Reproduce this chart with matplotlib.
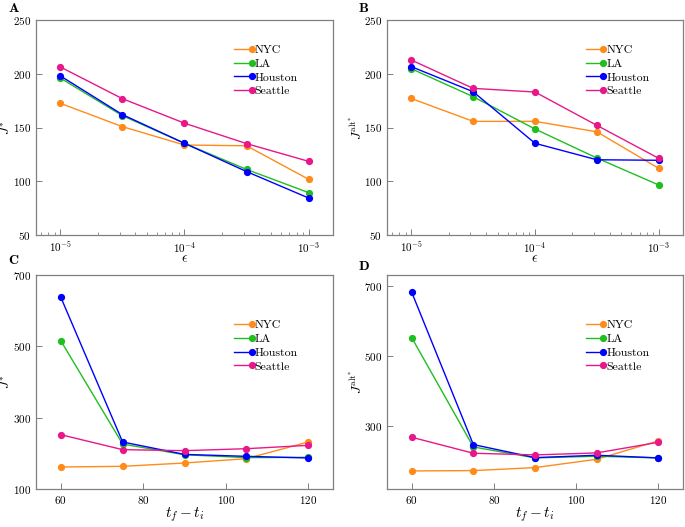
import numpy as np
import matplotlib
matplotlib.use("Agg")
import matplotlib.pyplot as plt
from matplotlib.lines import Line2D
from matplotlib.legend_handler import HandlerBase
from matplotlib.ticker import LogLocator, NullFormatter, FixedLocator

plt.rcParams.update({
    "font.family": "serif",
    "font.serif": ["cmr10", "DejaVu Serif"],
    "mathtext.fontset": "cm",
    "axes.formatter.use_mathtext": True,
    "axes.unicode_minus": False,
})

cities = ["NYC", "LA", "Houston", "Seattle"]
colors = {"NYC": "#ff8c1a", "LA": "#1fbf1f", "Houston": "#0000ff", "Seattle": "#e8178a"}

eps = [1e-5, 3.162e-5, 1e-4, 3.162e-4, 1e-3]
horizon = [60, 75, 90, 105, 120]

J_eps = {
    "NYC": [172.5, 150.8, 133.7, 133.0, 101.8],
    "LA": [196.0, 161.0, 135.3, 111.0, 89.4],
    "Houston": [198.0, 162.0, 135.3, 109.0, 84.4],
    "Seattle": [206.3, 176.8, 154.0, 135.0, 118.5],
}
Jalt_eps = {
    "NYC": [177.0, 155.7, 155.7, 146.0, 112.0],
    "LA": [204.7, 178.7, 148.6, 121.6, 96.5],
    "Houston": [206.6, 183.3, 135.3, 120.0, 119.5],
    "Seattle": [212.8, 186.4, 183.0, 152.0, 121.3],
}
J_hor = {
    "NYC": [161.7, 163.6, 172.9, 185.0, 231.8],
    "LA": [515.9, 226.0, 196.0, 188.0, 188.8],
    "Houston": [638.0, 231.8, 197.0, 191.6, 187.0],
    "Seattle": [252.3, 210.3, 207.5, 213.0, 222.4],
}
Jalt_hor = {
    "NYC": [169.8, 170.8, 179.4, 203.3, 256.0],
    "LA": [552.6, 238.7, 207.2, 212.0, 207.2],
    "Houston": [682.8, 245.5, 208.0, 214.8, 207.2],
    "Seattle": [266.5, 220.6, 215.8, 221.5, 252.0],
}


class EndMarkerHandler(HandlerBase):
    def create_artists(self, legend, orig, xd, yd, w, h, fs, trans):
        y = h / 2 - yd
        ln = Line2D([-xd, -xd + w], [y, y], color=orig.get_color(), lw=orig.get_linewidth())
        mk = Line2D([-xd + w], [y], marker="o", color=orig.get_color(),
                    ms=orig.get_markersize(), ls="none")
        ln.set_transform(trans)
        mk.set_transform(trans)
        return [ln, mk]


W, H = 685, 527
fig = plt.figure(figsize=(W / 100, H / 100), dpi=100)


def add_ax(l, r, t, b):
    return fig.add_axes([l / W, 1 - b / H, (r - l) / W, (b - t) / H])


axA = add_ax(36, 333, 20, 235)
axB = add_ax(387, 683, 20, 235)
axC = add_ax(36, 333, 275, 489)
axD = add_ax(387, 683, 275, 489)

spine_col = "#808080"


def style(ax):
    for s in ax.spines.values():
        s.set_color(spine_col)
        s.set_linewidth(0.9)
    ax.tick_params(which="both", direction="in", color=spine_col, labelsize=8,
                   top=False, right=False)
    ax.tick_params(which="major", length=4, width=0.7)
    ax.tick_params(which="minor", length=2.5, width=0.6)


def draw(ax, x, data, legend_anchor):
    handles = []
    for c in cities:
        h, = ax.plot(x, data[c], color=colors[c], marker="o", ms=4.2, lw=1.0, label=c)
        handles.append(h)
    ax.legend(handles=handles, labels=cities, loc="upper left", bbox_to_anchor=legend_anchor,
              frameon=False, fontsize=8.5, handlelength=1.5, handletextpad=0.25,
              labelspacing=0.3, borderpad=0, borderaxespad=0,
              handler_map={Line2D: EndMarkerHandler()})


draw(axA, eps, J_eps, (0.667, 0.885))
draw(axB, eps, Jalt_eps, (0.671, 0.885))
draw(axC, horizon, J_hor, (0.667, 0.79))
draw(axD, horizon, Jalt_hor, (0.671, 0.79))

for ax in (axA, axB):
    ax.set_xscale("log")
    ax.set_xlim(10 ** -5.196, 10 ** -2.804)
    ax.set_ylim(50, 250)
    ax.set_yticks([50, 100, 150, 200, 250])
    ax.xaxis.set_major_locator(FixedLocator([1e-5, 1e-4, 1e-3]))
    ax.xaxis.set_minor_locator(LogLocator(base=10, subs=np.arange(2, 10)))
    ax.xaxis.set_minor_formatter(NullFormatter())
    ax.set_xlabel(r"$\epsilon$", fontsize=10, labelpad=-1)
    style(ax)

for ax in (axC, axD):
    ax.set_xlim(54, 126)
    ax.set_xticks([60, 80, 100, 120])
    ax.set_xlabel(r"$t_f - t_i$", fontsize=11, labelpad=0)
    style(ax)

axC.set_ylim(100, 700)
axC.set_yticks([100, 300, 500, 700])
axD.set_ylim(118, 732)
axD.set_yticks([300, 500, 700])

axA.set_ylabel(r"$J^{*}$", fontsize=9.5)
axB.set_ylabel(r"$J^{\mathrm{alt}^{*}}$", fontsize=9.5)
axC.set_ylabel(r"$J^{*}$", fontsize=9.5)
axD.set_ylabel(r"$J^{\mathrm{alt}^{*}}$", fontsize=9.5)
for ax in (axA, axB, axC, axD):
    lbl = ax.yaxis.label
    lbl.set_rotation_mode("default")
    lbl.set_va("center")
    lbl.set_ha("center")
    ax.yaxis.set_label_coords(-0.101, 0.5)

for lab, x, y in [("A", 8, 8), ("B", 358, 8), ("C", 8, 261), ("D", 358, 267)]:
    fig.text(x / W, 1 - y / H, r"$\mathbf{%s}$" % lab, fontsize=10, va="center", ha="left")

fig.savefig("out.png", dpi=100)
